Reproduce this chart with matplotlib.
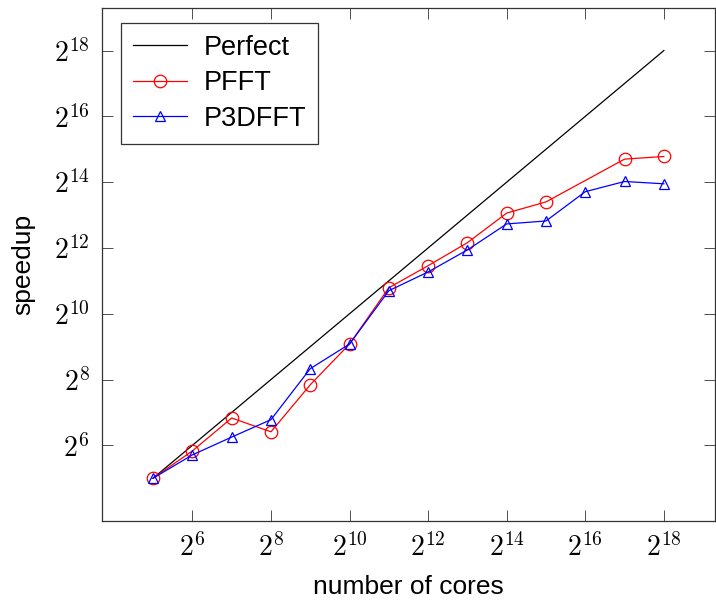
import matplotlib
matplotlib.use("Agg")
import matplotlib.pyplot as plt
import numpy as np

plt.rcParams['mathtext.fontset'] = 'cm'
plt.rcParams['font.family'] = ['Liberation Sans', 'DejaVu Sans']

# exponents of two (number of cores = 2**k)
cores_exp = [5, 6, 7, 8, 9, 10, 11, 12, 13, 14, 15, 16, 17, 18]
pfft_cores_exp = [5, 6, 7, 8, 9, 10, 11, 12, 13, 14, 15, 17, 18]
pfft_speedup_exp = [5.0, 5.83, 6.83, 6.41, 7.84, 9.08, 10.79, 11.46, 12.16, 13.06, 13.40, 14.70, 14.78]
p3dfft_speedup_exp = [5.0, 5.71, 6.25, 6.78, 8.33, 9.08, 10.70, 11.27, 11.94, 12.73, 12.82, 13.71, 14.02, 13.95]
tick_exp = [6, 8, 10, 12, 14, 16, 18]

cores = 2.0 ** np.array(cores_exp)
pfft_cores = 2.0 ** np.array(pfft_cores_exp)
pfft = 2.0 ** np.array(pfft_speedup_exp)
p3dfft = 2.0 ** np.array(p3dfft_speedup_exp)

fig = plt.figure(figsize=(7.16, 6.0), dpi=100)
ax = fig.add_axes([0.1425, 0.1317, 0.856, 0.8553])

ax.plot(cores, cores, color='black', lw=0.9, label='Perfect')
ax.plot(pfft_cores, pfft, color='red', lw=0.9, marker='o', markersize=9,
        markerfacecolor='none', markeredgewidth=0.9, label='PFFT')
ax.plot(cores, p3dfft, color='blue', lw=0.9, marker='^', markersize=7.5,
        markerfacecolor='none', markeredgewidth=0.9, label='P3DFFT')

ax.set_xscale('log', base=2)
ax.set_yscale('log', base=2)
ax.set_xlim(2 ** 3.7, 2 ** 19.3)
ax.set_ylim(2 ** 3.7, 2 ** 19.3)

ticks = [2.0 ** k for k in tick_exp]
labels = [r'$2^{%d}$' % k for k in tick_exp]
ax.set_xticks(ticks)
ax.set_xticklabels(labels)
ax.set_yticks(ticks)
ax.set_yticklabels(labels)
ax.minorticks_off()
ax.tick_params(direction='in', length=8, width=0.6, top=True, right=True,
               labelsize=20, colors='#333333', labelcolor='black', pad=9)

for s in ax.spines.values():
    s.set_linewidth(0.9)
    s.set_color('#333333')

ax.set_xlabel('number of cores', fontsize=19, labelpad=9)
ax.set_ylabel('speedup', fontsize=19, labelpad=13)

leg = ax.legend(loc='upper left', fontsize=19.5, fancybox=False, edgecolor='#333333',
                handlelength=2.0, handletextpad=0.6, borderpad=0.45, labelspacing=0.35,
                borderaxespad=0, bbox_to_anchor=(0.031, 0.971))
leg.get_frame().set_linewidth(0.9)
leg.get_frame().set_alpha(1)

fig.savefig('out.png', dpi=100)
